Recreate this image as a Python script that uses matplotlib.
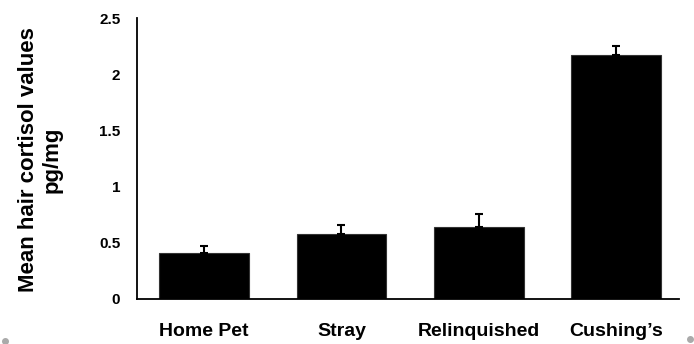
import matplotlib
matplotlib.use("Agg")
from matplotlib import pyplot as plt
from matplotlib.lines import Line2D
import numpy as np

# mean hair cortisol per group, with upper error (SEM)
groups = ["Home Pet", "Stray", "Relinquished", "Cushing\u2019s"]
cortisol = [0.41, 0.58, 0.64, 2.175]
sem = [0.06, 0.08, 0.12, 0.075]
y_ticks = [0, 0.5, 1, 1.5, 2, 2.5]
y_tick_labels = ["0", "0.5", "1", "1.5", "2", "2.5"]

plt.rcParams['font.family'] = ['Liberation Sans', 'DejaVu Sans']
plt.rcParams['font.weight'] = 'bold'

fig = plt.figure(figsize=(6.94, 3.44), dpi=100)
ax = fig.add_axes([137 / 694, 45 / 344, 542 / 694, 281 / 344])

x = np.arange(len(groups))
ax.bar(x, cortisol, width=0.655, color="black", edgecolor="#333333", linewidth=0.8,
       yerr=[np.zeros(len(sem)), sem], capsize=2.6,
       error_kw=dict(ecolor="black", elinewidth=1.5, capthick=1.5))

ax.set_xlim(-0.49, 3.46)
ax.set_ylim(0, 2.5)
ax.set_yticks(y_ticks)
ax.set_yticklabels(y_tick_labels, fontsize=11, fontweight="bold")
ax.set_xticks(x)
ax.set_xticklabels(groups, fontsize=14, fontweight="bold")
ax.tick_params(axis="y", length=0, pad=12)
ax.tick_params(axis="x", length=0, pad=17)

for side in ["top", "right"]:
    ax.spines[side].set_visible(False)
ax.spines["left"].set_linewidth(1.3)
ax.spines["bottom"].set_linewidth(1.3)

fig.text(40 / 694, 1 - 160 / 344, "Mean hair cortisol values\npg/mg", rotation=90,
         ha="center", va="center", fontsize=16, fontweight="bold", linespacing=1.15)

# little grey handles in the bottom corners
for px, py in [(5, 341), (690, 339)]:
    fig.add_artist(Line2D([px / 694], [1 - py / 344], marker="o", markersize=4,
                          color="#aaaaaa", transform=fig.transFigure))

fig.savefig("out.png", dpi=100)
